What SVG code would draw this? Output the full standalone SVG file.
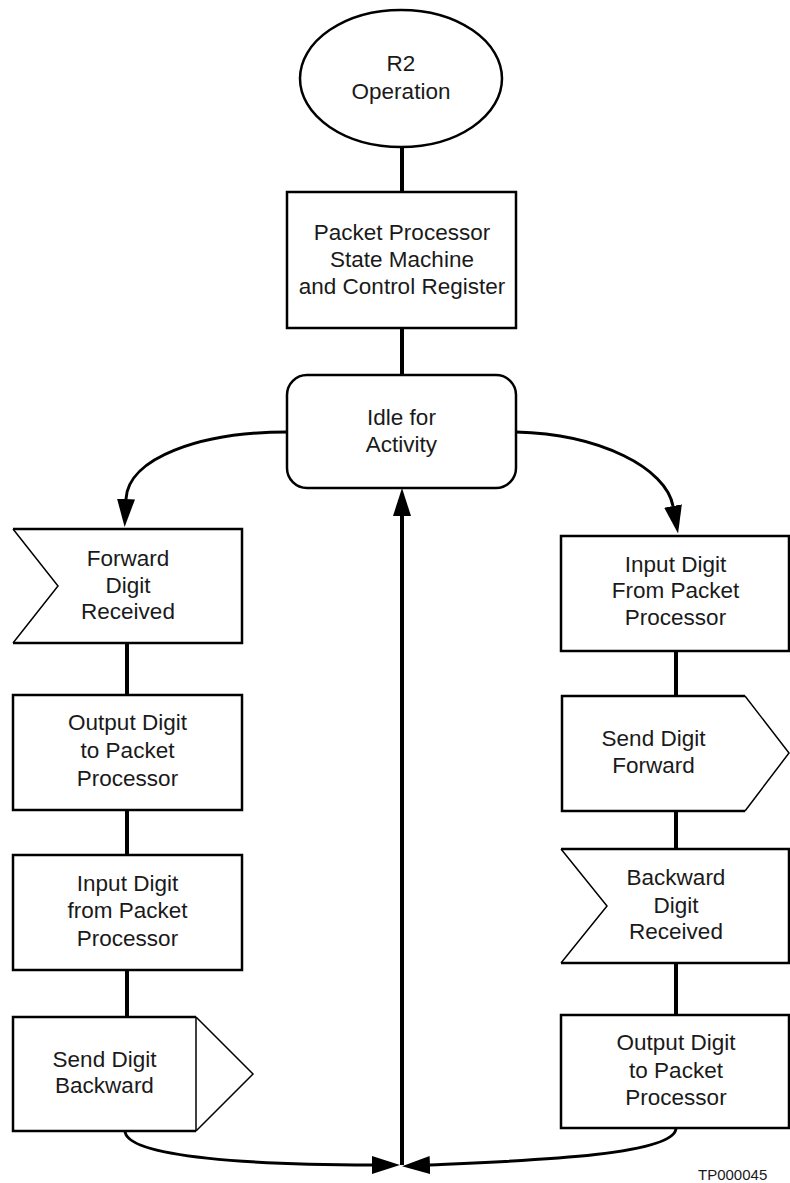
<svg xmlns="http://www.w3.org/2000/svg" width="790" height="1183" viewBox="0 0 790 1183">
  <style>
    .box { fill: #fff; stroke: #000; stroke-width: 2.5; }
    .edge { fill: none; stroke: #000; stroke-width: 2.5; }
    .thin { fill: none; stroke: #000; stroke-width: 1.5; }
    .link { fill: none; stroke: #000; stroke-width: 4; }
    .curve { fill: none; stroke: #000; stroke-width: 3; }
    .lbl { font-family: "Liberation Sans", Arial, Helvetica, sans-serif; font-size: 22.5px; fill: #1a1a1a; text-anchor: middle; }
    .tag { font-family: "Liberation Sans", Arial, Helvetica, sans-serif; font-size: 15px; fill: #1a1a1a; }
  </style>
  <defs>
    <marker id="arrow" markerUnits="userSpaceOnUse" markerWidth="28" markerHeight="18" viewBox="0 0 28 18" refX="0" refY="9" orient="auto">
      <path d="M0,0 L28,9 L0,18 Z" fill="#000"/>
    </marker>
  </defs>
  <rect width="790" height="1183" fill="#fff"/>

  <!-- connectors -->
  <g id="connectors">
    <line class="link" x1="402" y1="147" x2="402" y2="192"/>
    <line class="link" x1="402" y1="328" x2="402" y2="375"/>
    <line class="link" x1="127" y1="643" x2="127" y2="695"/>
    <line class="link" x1="127" y1="810" x2="127" y2="855"/>
    <line class="link" x1="127" y1="970" x2="127" y2="1017"/>
    <line class="link" x1="676" y1="651" x2="676" y2="696"/>
    <line class="link" x1="676" y1="811" x2="676" y2="849"/>
    <line class="link" x1="676" y1="963" x2="676" y2="1015"/>
    <path class="curve" d="M287,432 C200,432 128,458 126,499" marker-end="url(#arrow)"/>
    <path class="curve" d="M516,432 C600,434 666,468 673,506" marker-end="url(#arrow)"/>
    <path class="curve" d="M125,1131 C126,1158 260,1165 372,1165" marker-end="url(#arrow)"/>
    <path class="curve" d="M676,1128 C676,1156 520,1161 430,1165" marker-end="url(#arrow)"/>
    <line class="link" x1="402" y1="1165" x2="402" y2="516" marker-end="url(#arrow)"/>
  </g>

  <!-- start node -->
  <g id="r2-operation">
    <ellipse class="box" cx="401" cy="78.5" rx="101" ry="68.5"/>
    <text class="lbl" x="401" y="71">R2</text>
    <text class="lbl" x="401" y="99">Operation</text>
  </g>

  <g id="state-machine">
    <rect class="box" x="287" y="192" width="229" height="136"/>
    <text class="lbl" x="402" y="240">Packet Processor</text>
    <text class="lbl" x="402" y="267">State Machine</text>
    <text class="lbl" x="402" y="294">and Control Register</text>
  </g>

  <g id="idle">
    <rect class="box" x="287" y="375" width="229" height="113" rx="20" ry="20"/>
    <text class="lbl" x="401.5" y="425">Idle for</text>
    <text class="lbl" x="401.5" y="452">Activity</text>
  </g>

  <!-- left branch -->
  <g id="forward-digit-received">
    <polygon points="13,529 242,529 242,643 13,643 58,586" fill="#fff"/>
    <polyline class="edge" points="13,529 242,529 242,643 13,643"/>
    <polyline class="thin" points="13,529 58,586 13,643"/>
    <text class="lbl" x="128" y="566">Forward</text>
    <text class="lbl" x="128" y="593">Digit</text>
    <text class="lbl" x="128" y="619">Received</text>
  </g>

  <g id="output-digit-left">
    <rect class="box" x="13" y="695" width="229" height="115"/>
    <text class="lbl" x="127.5" y="730">Output Digit</text>
    <text class="lbl" x="127.5" y="758">to Packet</text>
    <text class="lbl" x="127.5" y="786">Processor</text>
  </g>

  <g id="input-digit-left">
    <rect class="box" x="13" y="855" width="229" height="115"/>
    <text class="lbl" x="127.5" y="891">Input Digit</text>
    <text class="lbl" x="127.5" y="918">from Packet</text>
    <text class="lbl" x="127.5" y="946">Processor</text>
  </g>

  <g id="send-digit-backward">
    <polygon points="13,1017 196,1017 253,1074 196,1131 13,1131" fill="#fff"/>
    <polyline class="edge" points="196,1017 13,1017 13,1131 196,1131"/>
    <polyline class="thin" points="196,1017 253,1074 196,1131"/>
    <line class="thin" x1="196" y1="1017" x2="196" y2="1131"/>
    <text class="lbl" x="104.5" y="1067">Send Digit</text>
    <text class="lbl" x="104.5" y="1093">Backward</text>
  </g>

  <!-- right branch -->
  <g id="input-digit-right">
    <rect class="box" x="561" y="536" width="228" height="115"/>
    <text class="lbl" x="675.5" y="572">Input Digit</text>
    <text class="lbl" x="675.5" y="598">From Packet</text>
    <text class="lbl" x="675.5" y="625">Processor</text>
  </g>

  <g id="send-digit-forward">
    <polygon points="562,696 745,696 789,753 745,811 562,811" fill="#fff"/>
    <polyline class="edge" points="745,696 562,696 562,811 745,811"/>
    <polyline class="thin" points="745,696 789,753 745,811"/>
    <text class="lbl" x="653.5" y="746">Send Digit</text>
    <text class="lbl" x="653.5" y="773">Forward</text>
  </g>

  <g id="backward-digit-received">
    <polygon points="561,849 789,849 789,963 561,963 607,906" fill="#fff"/>
    <polyline class="edge" points="561,849 789,849 789,963 561,963"/>
    <polyline class="thin" points="561,849 607,906 561,963"/>
    <text class="lbl" x="676" y="885">Backward</text>
    <text class="lbl" x="676" y="913">Digit</text>
    <text class="lbl" x="676" y="939">Received</text>
  </g>

  <g id="output-digit-right">
    <rect class="box" x="561" y="1015" width="228" height="113"/>
    <text class="lbl" x="676" y="1050">Output Digit</text>
    <text class="lbl" x="676" y="1078">to Packet</text>
    <text class="lbl" x="676" y="1105">Processor</text>
  </g>

  <text class="tag" x="698" y="1180">TP000045</text>
</svg>
